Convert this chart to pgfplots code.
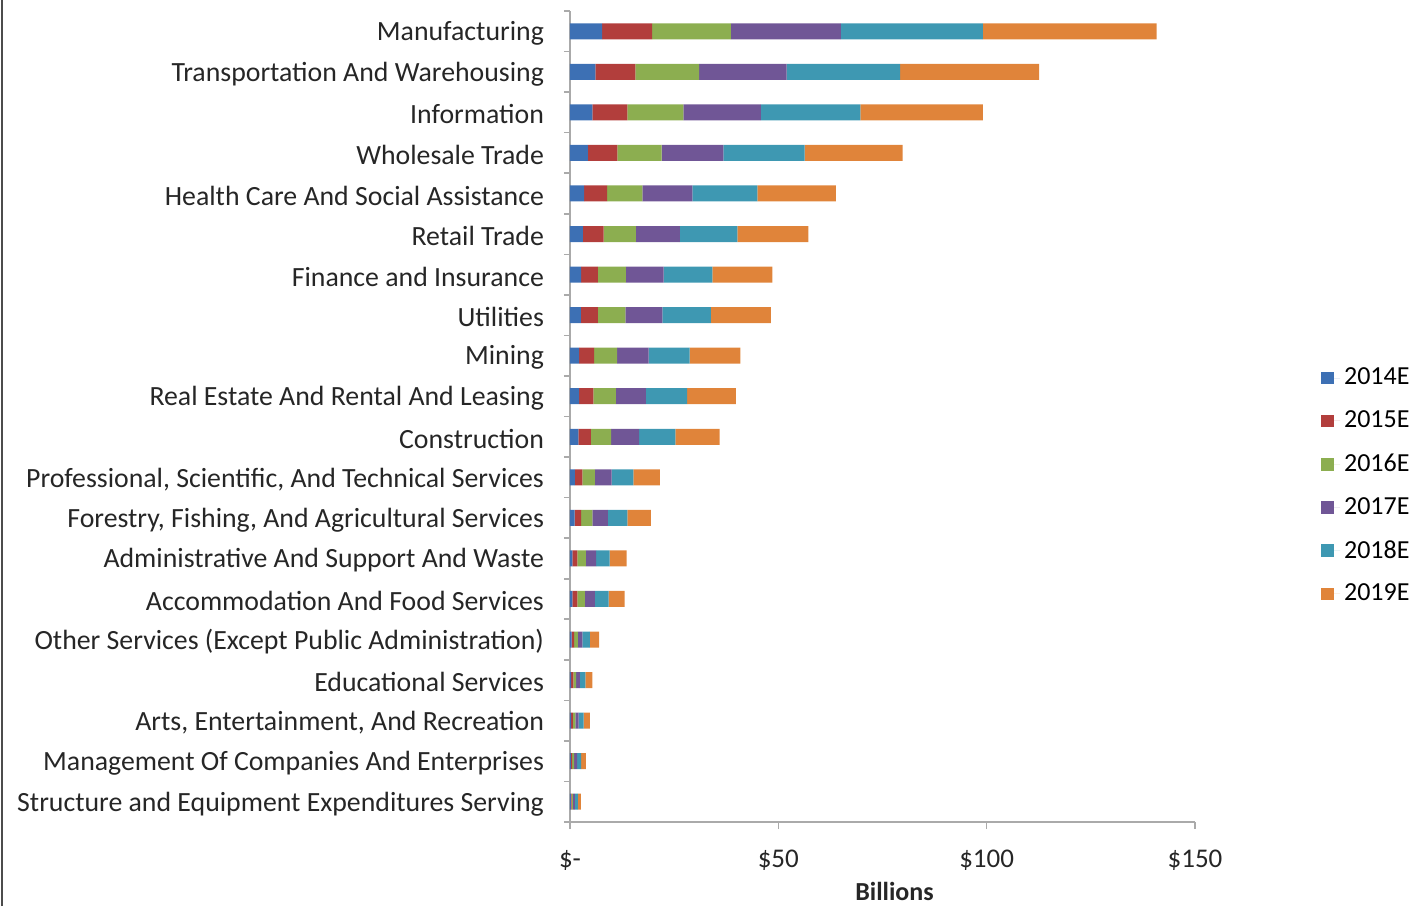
\documentclass[border=0pt]{standalone}
\usepackage{pgfplots}
\pgfplotsset{compat=1.18}
\usepackage{pgfplotstable}
\usepackage{fontspec}
\setmainfont{Carlito}
\definecolor{c14}{RGB}{61,112,180}
\definecolor{c15}{RGB}{178,62,60}
\definecolor{c16}{RGB}{140,174,80}
\definecolor{c17}{RGB}{112,86,150}
\definecolor{c18}{RGB}{62,152,178}
\definecolor{c19}{RGB}{224,132,58}
\definecolor{axgray}{RGB}{170,170,170}
\pgfplotstableread{
idx a b c d e f
0 7.7 12.0 18.9 26.4 34.1 41.7
1 6.1 9.6 15.3 21.0 27.2 33.4
2 5.4 8.4 13.4 18.6 23.9 29.4
3 4.3 7.1 10.6 14.8 19.5 23.5
4 3.4 5.5 8.5 12.0 15.6 18.8
5 3.1 5.0 7.7 10.6 13.8 17.0
6 2.7 4.0 6.7 9.1 11.7 14.4
7 2.6 4.1 6.6 8.9 11.6 14.4
8 2.2 3.6 5.5 7.6 9.8 12.2
9 2.2 3.4 5.4 7.2 9.9 11.7
10 2.0 3.0 4.9 6.7 8.7 10.6
11 1.2 1.8 3.0 4.0 5.2 6.4
12 1.1 1.6 2.7 3.7 4.7 5.6
13 0.6 1.2 2.0 2.5 3.2 4.1
14 0.6 1.2 1.8 2.4 3.3 3.8
15 0.4 0.6 0.9 1.1 1.8 2.2
16 0.3 0.5 0.7 0.9 1.3 1.7
17 0.3 0.4 0.6 0.8 1.2 1.5
18 0.2 0.3 0.5 0.7 1.0 1.1
19 0.2 0.2 0.3 0.5 0.7 0.7
}\datatable
\begin{document}
\begin{tikzpicture}
\path[use as bounding box] (-285pt,-42pt) rectangle (423.5pt,411pt);
\draw[black!70, line width=1pt] (-284pt,-42pt) -- (-284pt,411pt);
\begin{axis}[
  at={(0pt,0pt)}, anchor=south west,
  scale only axis, width=312.5pt, height=405.5pt,
  xbar stacked, bar width=8pt,
  xmin=0, xmax=150,
  ymin=-0.5, ymax=19.5, y dir=reverse,
  axis x line*=bottom, axis y line*=left,
  axis line style={axgray, line width=0.8pt},
  xtick={0,50,100,150},
  xticklabels={\$-\hspace{7pt},\$50,\$100,\$150},
  ytick={0,...,19},
  yticklabels={Manufacturing,Transportation And Warehousing,Information,Wholesale Trade,Health Care And Social Assistance,Retail Trade,Finance and Insurance,Utilities,Mining,Real Estate And Rental And Leasing,Construction,{Professional, Scientific, And Technical Services},{Forestry, Fishing, And Agricultural Services},Administrative And Support And Waste,Accommodation And Food Services,Other Services (Except Public Administration),Educational Services,{Arts, Entertainment, And Recreation},Management Of Companies And Enterprises,Structure and Equipment Expenditures Serving},
  minor ytick={-0.5,0.5,...,19.5},
  major y tick style={draw=none},
  minor tick length=3pt,
  major tick length=3.5pt,
  tick align=outside,
  tick style={axgray, line width=0.8pt},
  yticklabel style={font=\fontsize{13.9}{16}\selectfont, text=black!85, xshift=-6pt, yshift=-1pt},
  xticklabel style={font=\fontsize{13.5}{16}\selectfont, text=black!85, yshift=-7pt},
  xlabel={\textbf{Billions}},
  xlabel style={font=\fontsize{13}{16}\selectfont, text=black!85, yshift=1pt, xshift=6pt},
  legend style={at={(1.2014,0.4143)}, anchor=west, draw=none, fill=none,
    font=\fontsize{13}{16}\selectfont, row sep=7.5pt, inner sep=0pt},
  legend cell align=left,
  legend image code/.code={\fill[#1] (0pt,-3.2pt) rectangle (6.4pt,3.2pt); \path (6.4pt,0pt) -- (9.4pt,0pt);},
  every axis plot/.append style={draw=none},
]
\addplot[fill=c14] table[x=a, y=idx] {\datatable};
\addplot[fill=c15] table[x=b, y=idx] {\datatable};
\addplot[fill=c16] table[x=c, y=idx] {\datatable};
\addplot[fill=c17] table[x=d, y=idx] {\datatable};
\addplot[fill=c18] table[x=e, y=idx] {\datatable};
\addplot[fill=c19] table[x=f, y=idx] {\datatable};
\legend{2014E,2015E,2016E,2017E,2018E,2019E}
\end{axis}
\end{tikzpicture}
\end{document}
